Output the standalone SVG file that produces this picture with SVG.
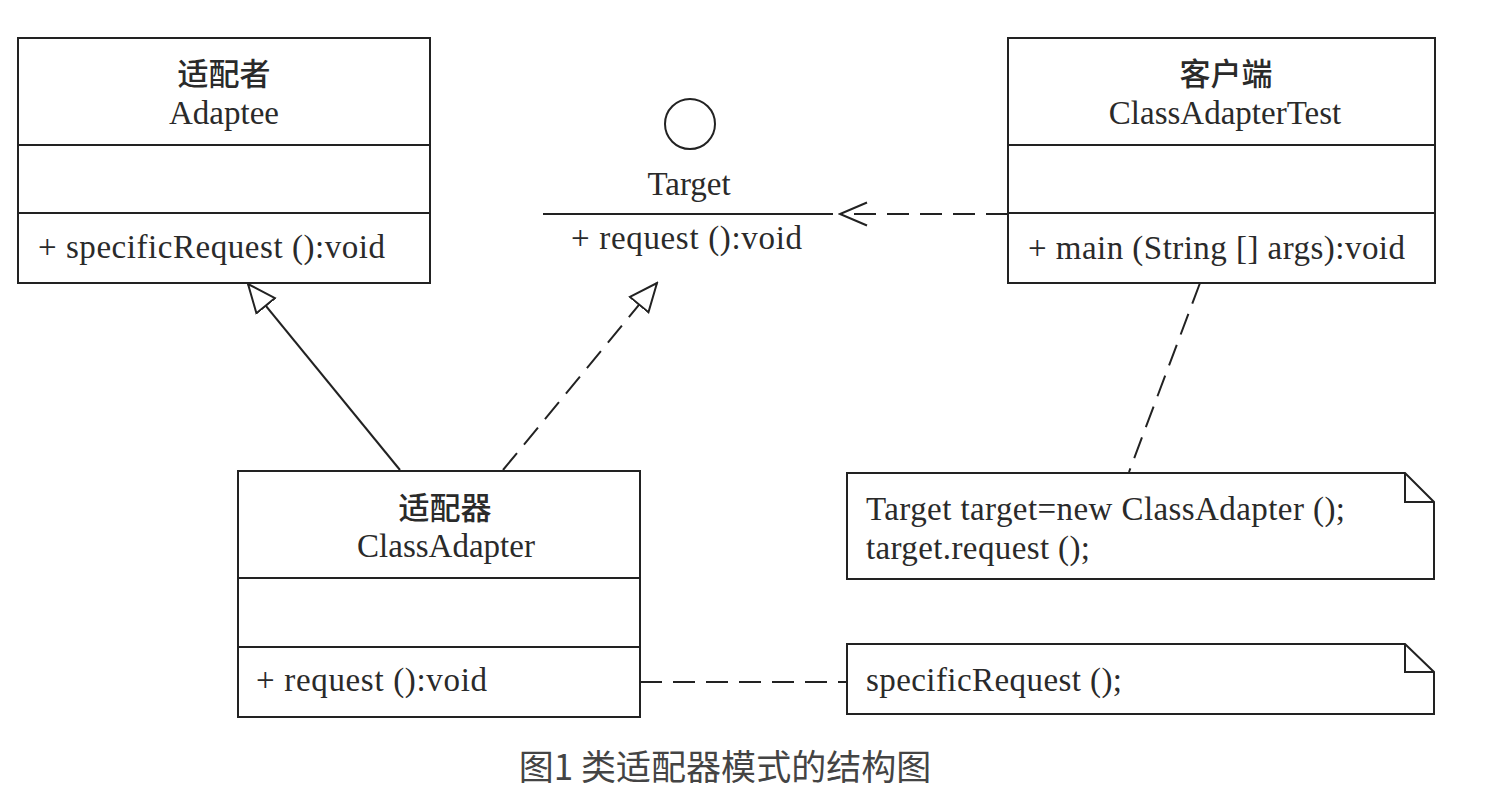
<svg xmlns="http://www.w3.org/2000/svg" width="1508" height="800" viewBox="0 0 1508 800">
<style>
.box{fill:#fff;stroke:#222;stroke-width:2}
.div{stroke:#222;stroke-width:2;fill:none}
.t{font-family:"Liberation Serif","Times New Roman",serif;font-size:33px;fill:#2a2a2a}
.c{text-anchor:middle}
.cjk{font-family:"Noto Sans CJK SC","Noto Sans CJK TC",sans-serif;font-size:31px;font-weight:500;fill:#2a2a2a;text-anchor:middle}
.solid{stroke:#222;stroke-width:2;fill:none}
.dash{stroke:#222;stroke-width:2;fill:none;stroke-dasharray:22 11}
.cap{font-family:"Noto Sans CJK SC","Noto Sans CJK TC",sans-serif;font-size:35px;fill:#444;text-anchor:middle}
</style>
<defs>
<marker id="tri" viewBox="-1 -14 31 28" refX="28" refY="0" markerWidth="31" markerHeight="28" markerUnits="userSpaceOnUse" orient="auto">
<path d="M0,-12 L28,0 L0,12 Z" fill="#fff" stroke="#222" stroke-width="2" stroke-linejoin="miter"/>
</marker>
<marker id="open" viewBox="-30 -14 32 28" refX="0" refY="0" markerWidth="32" markerHeight="28" markerUnits="userSpaceOnUse" orient="auto">
<path d="M-27,-11.5 L0,0 L-27,11.5" fill="none" stroke="#222" stroke-width="2"/>
</marker>
</defs>
<rect width="1508" height="800" fill="#fff"/>

<g id="connectors">
<line class="solid" x1="400" y1="470" x2="248" y2="284" marker-end="url(#tri)"/>
<line class="dash" x1="503" y1="470" x2="657" y2="283" marker-end="url(#tri)"/>
<line class="dash" x1="1008" y1="214" x2="840" y2="214" marker-end="url(#open)"/>
<line class="dash" x1="1200" y1="283" x2="1129" y2="472"/>
<line class="dash" x1="640" y1="682" x2="847" y2="682"/>
</g>

<g id="adaptee">
<rect class="box" x="18" y="38" width="412" height="245"/>
<line class="div" x1="18" y1="145" x2="430" y2="145"/>
<line class="div" x1="18" y1="213" x2="430" y2="213"/>
<text class="cjk" x="224" y="85">适配者</text>
<text class="t c" x="224" y="124">Adaptee</text>
<text class="t" x="38" y="258" textLength="347" lengthAdjust="spacing">+ specificRequest ():void</text>
</g>

<g id="target">
<circle cx="690" cy="124" r="25" fill="#fff" stroke="#222" stroke-width="2"/>
<text class="t c" x="689" y="195">Target</text>
<text class="t" x="571" y="249" textLength="231" lengthAdjust="spacing">+ request ():void</text>
<line class="div" x1="543" y1="214" x2="833" y2="214"/>
</g>

<g id="client">
<rect class="box" x="1008" y="38" width="427" height="245"/>
<line class="div" x1="1008" y1="145" x2="1435" y2="145"/>
<line class="div" x1="1008" y1="213" x2="1435" y2="213"/>
<text class="cjk" x="1226" y="85">客户端</text>
<text class="t c" x="1225" y="124">ClassAdapterTest</text>
<text class="t" x="1028" y="259" textLength="377" lengthAdjust="spacing">+ main (String [] args):void</text>
</g>

<g id="classAdapter">
<rect class="box" x="238" y="471" width="402" height="246"/>
<line class="div" x1="238" y1="578" x2="640" y2="578"/>
<line class="div" x1="238" y1="647" x2="640" y2="647"/>
<text class="cjk" x="445" y="519">适配器</text>
<text class="t c" x="446" y="557">ClassAdapter</text>
<text class="t" x="256" y="691" textLength="231" lengthAdjust="spacing">+ request ():void</text>
</g>

<g id="note1">
<path class="box" d="M847,473 L1405,473 L1434,502 L1434,579 L847,579 Z"/>
<path class="div" d="M1405,473 L1405,502 L1434,502"/>
<text class="t" x="866" y="520" textLength="479" lengthAdjust="spacing">Target target=new ClassAdapter ();</text>
<text class="t" x="866" y="559" textLength="224" lengthAdjust="spacing">target.request ();</text>
</g>

<g id="note2">
<path class="box" d="M847,644 L1405,644 L1434,672 L1434,714 L847,714 Z"/>
<path class="div" d="M1405,644 L1405,672 L1434,672"/>
<text class="t" x="866" y="691" textLength="256" lengthAdjust="spacing">specificRequest ();</text>
</g>

<g id="caption">
<text class="cap" x="725" y="780">图1 类适配器模式的结构图</text>
</g>
</svg>
